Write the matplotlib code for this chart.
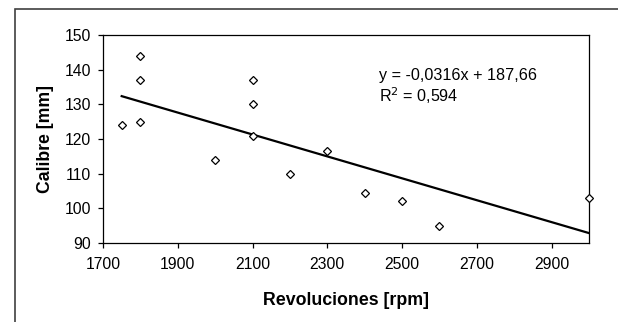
import matplotlib
matplotlib.use('Agg')
from matplotlib import pyplot as plt
from matplotlib.patches import Rectangle

# datos
revoluciones = [1750, 1800, 1800, 1800, 2000, 2100, 2100, 2100, 2200, 2300, 2400, 2500, 2600, 3000]
calibre = [124, 144, 137, 125, 114, 137, 130, 121, 110, 116.5, 104.5, 102, 95, 103]

# linea de tendencia (ecuacion mostrada)
pendiente = -0.0316
intercepto = 187.66
r2 = 0.594

x_ticks = [1700, 1900, 2100, 2300, 2500, 2700, 2900]
y_ticks = [90, 100, 110, 120, 130, 140, 150]

plt.rcParams['font.family'] = ['Liberation Sans', 'DejaVu Sans']

fig = plt.figure(figsize=(6.18, 3.22), dpi=100)
# marco exterior del grafico
fig.patches.append(Rectangle((15 / 618, -0.1), 1.0, (322 - 9) / 322 + 0.1,
                             transform=fig.transFigure, fill=False,
                             edgecolor='#404040', linewidth=1.2))

ax = fig.add_axes([103 / 618, 79 / 322, 486 / 618, 208 / 322])

x_min, x_max = min(revoluciones), max(revoluciones)
ax.plot([x_min, x_max], [pendiente * x_min + intercepto, pendiente * x_max + intercepto],
        color='black', linewidth=1.6, zorder=2)
ax.plot(revoluciones, calibre, linestyle='none', marker='D', markersize=4.2,
        markerfacecolor='white', markeredgecolor='black', markeredgewidth=0.9,
        clip_on=False, zorder=3)

ax.set_xlim(1700, 3000)
ax.set_ylim(90, 150)
ax.set_xticks(x_ticks)
ax.set_yticks(y_ticks)
ax.tick_params(direction='out', length=3.8, width=0.9, labelsize=11.3)
ax.tick_params(axis='x', pad=6.5)
ax.tick_params(axis='y', pad=4.5)
for s in ax.spines.values():
    s.set_linewidth(0.9)

ax.set_xlabel('Revoluciones [rpm]', fontsize=12.8, fontweight='bold', labelpad=14)
ax.set_ylabel('Calibre [mm]', fontsize=12.7, fontweight='bold', labelpad=8)

ax.text(2438, 137.0, 'y = -0,0316x + 187,66', fontsize=11.6, va='baseline')
ax.text(2438, 130.8, 'R$^2$ = 0,594', fontsize=11.6, va='baseline')

fig.savefig('out.png', dpi=100)
